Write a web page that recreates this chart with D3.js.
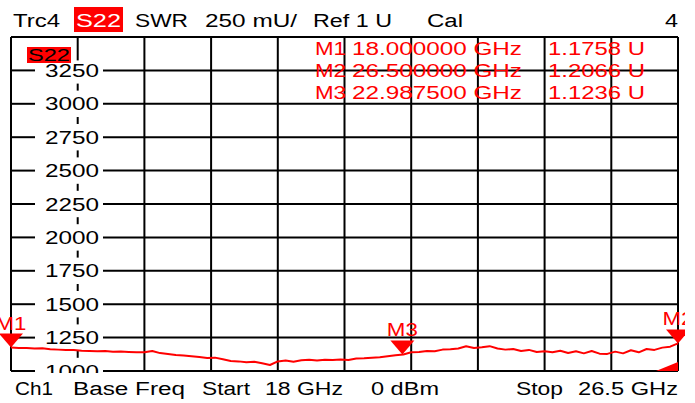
<!DOCTYPE html>
<html>
<head>
<meta charset="utf-8">
<script src="https://cdn.jsdelivr.net/npm/d3@7"></script>
<style>
  html, body { margin: 0; padding: 0; background: #fff; }
  svg { display: block; font-family: "Liberation Sans", Arial, sans-serif; }
</style>
</head>
<body>
<div id="chart"></div>
<script>
// sweep: 18 GHz .. 26.5 GHz, 0.1 GHz steps
const startGHz = 18;
const stopGHz = 26.5;
const stepGHz = 0.1;

// SWR trace in mU
const swrValues = [
  1176, 1173, 1172, 1168, 1170, 1163, 1160, 1158, 1157, 1152,
  1150, 1147, 1149, 1144, 1146, 1143, 1141, 1140, 1150, 1134,
  1128, 1120, 1116, 1110, 1104, 1098, 1100, 1088, 1075, 1072,
  1065, 1070, 1058, 1045, 1072, 1078, 1070, 1080, 1084, 1079,
  1085, 1082, 1086, 1083, 1094, 1096, 1100, 1103, 1110, 1118,
  1124, 1140, 1143, 1150, 1148, 1160, 1162, 1168, 1185, 1172,
  1178, 1186, 1168, 1160, 1165, 1150, 1158, 1142, 1148, 1140,
  1152, 1135, 1148, 1132, 1150, 1130, 1128, 1145, 1132, 1155,
  1140, 1165, 1158, 1175, 1182, 1207
];

const yTicks = [1000, 1250, 1500, 1750, 2000, 2250, 2500, 2750, 3000, 3250];
const yMin = 1000;
const yMax = 3500;

const markerNames = ["M1", "M2", "M3"];
const markerFreqs = [18.0, 26.5, 22.9875];
const markerValues = [1175.8, 1206.6, 1123.6];
const markerFreqText = ["18.000000 GHz", "26.500000 GHz", "22.987500 GHz"];
const markerValueText = ["1.1758 U", "1.2066 U", "1.1236 U"];

const width = 695;
const height = 403;
const plot = { left: 11, right: 678, top: 37, bottom: 371 };

const svg = d3.select("#chart")
  .append("svg")
  .attr("width", width)
  .attr("height", height);

svg.append("clipPath")
  .attr("id", "screen")
  .append("rect")
  .attr("x", 0).attr("y", 0).attr("width", 685).attr("height", height);

const x = d3.scaleLinear().domain([startGHz, stopGHz]).range([plot.left, plot.right]);
const y = d3.scaleLinear().domain([yMin, yMax]).range([plot.bottom, plot.top]);

// stretched instrument font: fit each string to its measured width
function label(g, str, x0, base, w, opts = {}) {
  return g.append("text")
    .attr("x", x0)
    .attr("y", base)
    .attr("font-size", opts.size || 18)
    .attr("fill", opts.fill || "#000")
    .attr("textLength", w)
    .attr("lengthAdjust", "spacingAndGlyphs")
    .text(str);
}

const grid = svg.append("g")
  .attr("stroke", "#000")
  .attr("stroke-width", 2)
  .attr("fill", "none");

// vertical grid (10 divisions)
const xDivs = d3.range(11).map(i => startGHz + i * (stopGHz - startGHz) / 10);
grid.selectAll("line.v")
  .data(xDivs.filter((d, i) => i !== 1))
  .enter()
  .append("line")
  .attr("x1", d => x(d)).attr("x2", d => x(d))
  .attr("y1", plot.top).attr("y2", plot.bottom);

// the label column line is dashed
const labelX = x(xDivs[1]);
grid.append("line")
  .attr("x1", labelX).attr("x2", labelX)
  .attr("y1", plot.top).attr("y2", y(3250) - 10);
grid.selectAll("line.dash")
  .data(yTicks.slice(1))
  .enter()
  .append("line")
  .attr("x1", labelX).attr("x2", labelX)
  .attr("y1", d => y(d - 125) - 3.5)
  .attr("y2", d => y(d - 125) + 3.5);

// horizontal grid, broken around the labels
grid.append("line")
  .attr("x1", plot.left).attr("x2", plot.right)
  .attr("y1", y(yMax)).attr("y2", y(yMax));
grid.selectAll("line.hl")
  .data(yTicks)
  .enter()
  .append("line")
  .attr("x1", plot.left).attr("x2", 35)
  .attr("y1", d => y(d)).attr("y2", d => y(d));
grid.selectAll("line.hr")
  .data(yTicks)
  .enter()
  .append("line")
  .attr("x1", 103).attr("x2", plot.right)
  .attr("y1", d => y(d)).attr("y2", d => y(d));

// y labels
const yl = svg.append("g");
yTicks.forEach(t => label(yl, String(t), 45, y(t) + 6.5, 54));

// footer band hides the lower half of the 1000 label
svg.append("rect")
  .attr("x", 0).attr("y", plot.bottom + 2)
  .attr("width", width).attr("height", height - plot.bottom - 2)
  .attr("fill", "#fff");

// trace
const trace = swrValues.map((v, i) => [startGHz + i * stepGHz, v]);
svg.append("path")
  .datum(trace)
  .attr("fill", "none")
  .attr("stroke", "#ff0000")
  .attr("stroke-width", 2)
  .attr("stroke-linejoin", "round")
  .attr("d", d3.line().x(d => x(d[0])).y(d => y(d[1])));

// markers
const mk = svg.append("g")
  .attr("fill", "#ff0000")
  .attr("clip-path", "url(#screen)");
markerNames.forEach((name, i) => {
  const tx = x(markerFreqs[i]);
  const ty = y(markerValues[i]);
  mk.append("path")
    .attr("d", `M${tx - 12},${ty - 14}L${tx + 12},${ty - 14}L${tx},${ty}Z`);
  mk.append("text")
    .attr("x", tx)
    .attr("y", ty - 18)
    .attr("text-anchor", "middle")
    .attr("font-size", 18)
    .attr("textLength", 31)
    .attr("lengthAdjust", "spacingAndGlyphs")
    .text(name);
});

// small wedge at bottom right
mk.append("path")
  .attr("d", `M${x(stopGHz) - 22},${y(yMin)}L${x(stopGHz)},${y(yMin) - 9}L${x(stopGHz)},${y(yMin)}Z`);

// marker readout
const ro = svg.append("g");
markerNames.forEach((name, i) => {
  const base = 55 + i * 22;
  label(ro, name, 315, base, 31, { fill: "#ff0000" });
  label(ro, markerFreqText[i], 352, base, 170, { fill: "#ff0000" });
  label(ro, markerValueText[i], 548, base, 97, { fill: "#ff0000" });
});

// trace tag in the diagram
svg.append("rect")
  .attr("x", 27).attr("y", 47).attr("width", 44).attr("height", 16)
  .attr("fill", "#ff0000");
label(svg, "S22", 28, 61, 42, { size: 17 });

// header line
const hd = svg.append("g");
label(hd, "Trc4", 13, 27, 47);
hd.append("rect")
  .attr("x", 74).attr("y", 7).attr("width", 49).attr("height", 25)
  .attr("fill", "#ff0000");
label(hd, "S22", 76, 27, 45, { fill: "#fff" });
label(hd, "SWR", 135, 27, 53);
label(hd, "250 mU/", 205, 27, 92);
label(hd, "Ref 1 U", 313, 27, 79);
label(hd, "Cal", 427, 27, 36);
label(hd, "4", 665, 27, 13);

// footer line
const ft = svg.append("g");
label(ft, "Ch1", 15, 395, 38);
label(ft, "Base Freq", 73, 395, 112);
label(ft, "Start", 202, 395, 48);
label(ft, "18 GHz", 265, 395, 78);
label(ft, "0 dBm", 371, 395, 68);
label(ft, "Stop", 516, 395, 47);
label(ft, "26.5 GHz", 578, 395, 100);
</script>
</body>
</html>
